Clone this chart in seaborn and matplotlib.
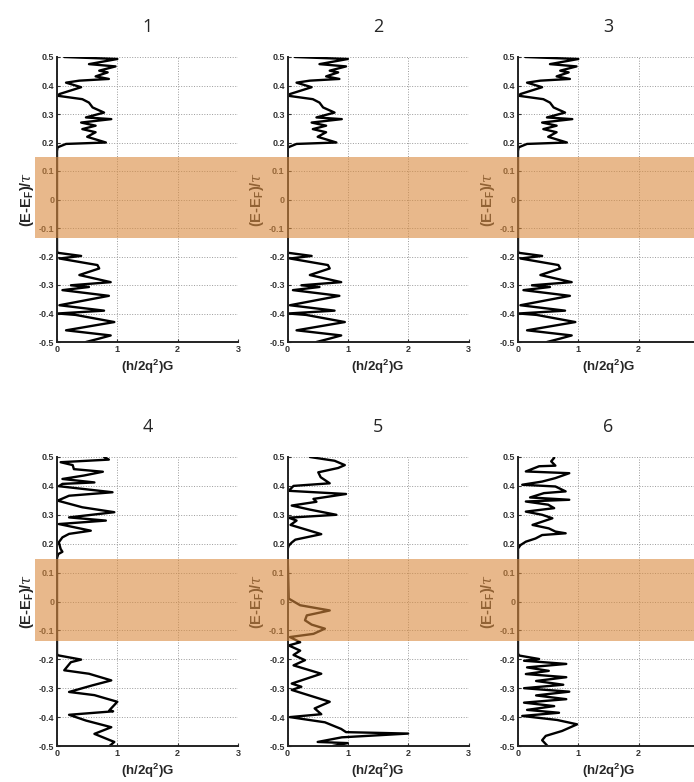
import numpy as np
import pandas as pd
import matplotlib
matplotlib.use('Agg')
import matplotlib.pyplot as plt
import matplotlib.transforms as mtransforms
from matplotlib.patches import Rectangle
import seaborn as sns

# Energy (E-E_F)/tau and conductance (h/2q^2)G
e_top = [0.5, 0.493, 0.475, 0.467, 0.452, 0.446, 0.432, 0.423, 0.417, 0.41, 0.394, 0.37, 0.364,
         0.352, 0.34, 0.323, 0.305, 0.288, 0.282, 0.27, 0.259, 0.247, 0.236, 0.22, 0.2, 0.195,
         0.183, 0.17, -0.18, -0.187, -0.198, -0.207, -0.23, -0.242, -0.265, -0.29, -0.301,
         -0.307, -0.318, -0.338, -0.371, -0.39, -0.4, -0.405, -0.43, -0.459, -0.477, -0.488, -0.5]
g_top = [0.12, 1.0, 0.53, 0.97, 0.70, 0.84, 0.64, 0.86, 0.37, 0.15, 0.40, 0.04, 0.01,
         0.42, 0.53, 0.59, 0.78, 0.48, 0.9, 0.40, 0.64, 0.42, 0.64, 0.5, 0.81, 0.15,
         0.01, 0.0, 0.0, 0.01, 0.40, 0.04, 0.67, 0.70, 0.37, 0.89, 0.23,
         0.53, 0.09, 0.86, 0.04, 0.78, 0.01, 0.31, 0.95, 0.15, 0.89, 0.70, 0.48]

e4 = [0.5, 0.491, 0.482, 0.472, 0.458, 0.449, 0.436, 0.424, 0.412, 0.407, 0.399, 0.378, 0.366,
      0.349, 0.326, 0.309, 0.291, 0.28, 0.268, 0.245, 0.234, 0.222, 0.205, 0.182, 0.172, 0.164,
      0.15, -0.18, -0.186, -0.201, -0.21, -0.238, -0.25, -0.273, -0.29, -0.313, -0.324, -0.347,
      -0.376, -0.38, -0.392, -0.412, -0.435, -0.458, -0.486, -0.5]
g4 = [0.78, 0.86, 0.06, 0.26, 0.28, 0.76, 0.45, 0.09, 0.62, 0.09, 0.03, 0.92, 0.2,
      0.01, 0.42, 0.95, 0.2, 0.81, 0.03, 0.56, 0.2, 0.09, 0.03, 0.06, 0.09, 0.02,
      0.0, 0.0, 0.01, 0.4, 0.23, 0.12, 0.53, 0.9, 0.59, 0.2, 0.62, 1.0,
      0.87, 0.93, 0.2, 0.48, 0.9, 0.62, 0.95, 0.87]

e5 = [0.5, 0.487, 0.472, 0.462, 0.447, 0.43, 0.409, 0.4, 0.383, 0.372, 0.355, 0.345, 0.332,
      0.318, 0.3, 0.29, 0.28, 0.265, 0.233, 0.214, 0.204, 0.193, 0.18, 0.01, -0.013, -0.031,
      -0.048, -0.065, -0.08, -0.094, -0.112, -0.123, -0.141, -0.152, -0.17, -0.185, -0.203,
      -0.221, -0.25, -0.284, -0.295, -0.306, -0.347, -0.37, -0.39, -0.4, -0.418, -0.441,
      -0.452, -0.457, -0.47, -0.486, -0.49, -0.5]
g5 = [0.37, 0.78, 0.95, 0.84, 0.51, 0.55, 0.70, 0.1, 0.02, 0.97, 0.43, 0.48, 0.07,
      0.37, 0.81, 0.02, 0.15, 0.05, 0.56, 0.13, 0.07, 0.02, 0.0, 0.02, 0.21, 0.70,
      0.32, 0.29, 0.4, 0.62, 0.43, 0.04, 0.21, 0.02, 0.21, 0.1, 0.29,
      0.1, 0.56, 0.07, 0.23, 0.07, 0.70, 0.45, 0.56, 0.04, 0.62, 0.89,
      0.97, 2.0, 0.9, 0.5, 1.0, 0.75]

e6 = [0.497, 0.485, 0.47, 0.468, 0.45, 0.444, 0.427, 0.415, 0.404, 0.398, 0.381, 0.375, 0.36,
      0.352, 0.346, 0.335, 0.323, 0.311, 0.3, 0.288, 0.265, 0.253, 0.242, 0.236, 0.23, 0.218,
      0.207, 0.195, 0.183, 0.17, -0.18, -0.187, -0.199, -0.205, -0.216, -0.228, -0.24, -0.251,
      -0.262, -0.275, -0.288, -0.3, -0.312, -0.325, -0.338, -0.35, -0.362, -0.375, -0.385,
      -0.396, -0.41, -0.425, -0.448, -0.465, -0.48, -0.5]
g6 = [0.6, 0.55, 0.62, 0.35, 0.13, 0.85, 0.62, 0.4, 0.07, 0.62, 0.79, 0.43, 0.2,
      0.85, 0.13, 0.5, 0.6, 0.13, 0.4, 0.57, 0.24, 0.51, 0.62, 0.79, 0.4, 0.29,
      0.13, 0.04, 0.0, 0.0, 0.0, 0.02, 0.35, 0.1, 0.8, 0.15, 0.51, 0.13,
      0.8, 0.3, 0.75, 0.1, 0.85, 0.3, 0.8, 0.1, 0.6, 0.15, 0.68,
      0.07, 0.65, 0.98, 0.73, 0.46, 0.4, 0.49]

panel_titles = ['1', '2', '3', '4', '5', '6']
panel_e = [e_top, e_top, e_top, e4, e5, e6]
panel_g = [g_top, g_top, g_top, g4, g5, g6]

# gap region shaded across each row
band_lo, band_hi = -0.135, 0.148

x_ticks = [0, 1, 2, 3]
y_ticks = [-0.5, -0.4, -0.3, -0.2, -0.1, 0, 0.1, 0.2, 0.3, 0.4, 0.5]
y_ticklabels = ['-0.5', '-0.4', '-0.3', '-0.2', '-0.1', '0', '0.1', '0.2', '0.3', '0.4', '0.5']

sns.set_style('ticks')
plt.rcParams['font.family'] = ['Liberation Sans', 'DejaVu Sans']
plt.rcParams['mathtext.fontset'] = 'custom'
plt.rcParams['mathtext.rm'] = 'Liberation Sans'
plt.rcParams['mathtext.bf'] = 'Liberation Sans:bold'
plt.rcParams['mathtext.it'] = 'DejaVu Serif:italic'

fig = plt.figure(figsize=(6.94, 7.82), dpi=100)
W, H = 694, 782
lefts = [57, 287.5, 518]
rows = [(57, 342), (457, 746)]  # top, bottom pixel of each row

axes = []
for i in range(6):
    r, c = divmod(i, 3)
    top, bot = rows[r]
    ax = fig.add_axes([lefts[c] / W, 1 - bot / H, 181 / W, (bot - top) / H])
    df = pd.DataFrame({'G': panel_g[i], 'E': panel_e[i]})
    sns.lineplot(data=df, x='G', y='E', sort=False, estimator=None, orient='y',
                 color='black', lw=1.7, ax=ax)
    ax.set_xlim(0, 3)
    ax.set_ylim(-0.5, 0.5)
    ax.set_xticks(x_ticks)
    # last column runs off the right edge, its "3" is not shown
    ax.set_xticklabels(['0', '1', '2', '3' if c < 2 else ''])
    ax.set_yticks(y_ticks)
    ax.set_yticklabels(y_ticklabels)
    ax.grid(True, ls=':', color='#9a9a9a', lw=0.7)
    ax.set_axisbelow(True)
    for side in ['top', 'right']:
        ax.spines[side].set_visible(False)
    for side in ['left', 'bottom']:
        ax.spines[side].set_linewidth(1.4)
        ax.spines[side].set_color('#222222')
    ax.tick_params(direction='in', length=2, width=0.8, labelsize=6.5, pad=2, colors='#333333')
    for lab in ax.get_xticklabels() + ax.get_yticklabels():
        lab.set_fontweight('bold')
    ax.set_xlabel(r'(h/2q$^{\mathbf{2}}$)G', fontsize=9.5, fontweight='bold', labelpad=3)
    ax.set_ylabel(r'(E-E$_{\mathbf{F}}$)/$\tau$', fontsize=10.5, fontweight='bold', labelpad=2)
    ax.set_title(panel_titles[i], fontsize=13, pad=18, family='Open Sans')
    axes.append(ax)

# orange band over each row, spanning from left margin to the right edge
for r in range(2):
    ax0 = axes[3 * r]
    trans = mtransforms.blended_transform_factory(fig.transFigure, ax0.transData)
    rect = Rectangle((35 / W, band_lo), 1 - 35 / W, band_hi - band_lo, transform=trans,
                     facecolor='#D98A3E', alpha=0.6, edgecolor='none', zorder=10)
    fig.add_artist(rect)

fig.savefig('out.png', dpi=100)
